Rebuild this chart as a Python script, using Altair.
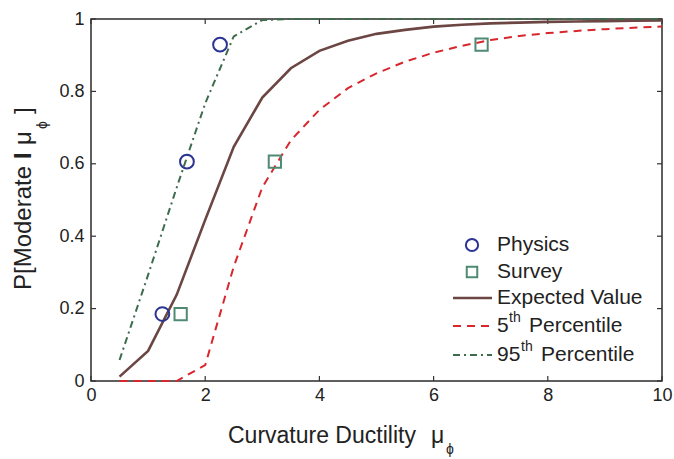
import altair as alt
import pandas as pd

# Fragility curves for the moderate damage state vs curvature ductility
mu = [0.5, 1.0, 1.5, 2.0, 2.5, 3.0, 3.5, 4.0, 4.5, 5.0,
      5.5, 6.0, 6.5, 7.0, 7.5, 8.0, 8.5, 9.0, 9.5, 10.0]
expected = [0.012, 0.083, 0.238, 0.445, 0.647, 0.783, 0.864, 0.912, 0.940, 0.959,
            0.970, 0.979, 0.984, 0.988, 0.990, 0.992, 0.993, 0.994, 0.995, 0.996]
pct05 = [0.0, 0.0, 0.0, 0.044, 0.316, 0.535, 0.665, 0.749, 0.809, 0.850,
         0.882, 0.907, 0.926, 0.942, 0.953, 0.961, 0.967, 0.972, 0.976, 0.979]
pct95 = [0.058, 0.293, 0.534, 0.767, 0.952, 0.997, 1.0, 1.0, 1.0, 1.0,
         1.0, 1.0, 1.0, 1.0, 1.0, 1.0, 1.0, 1.0, 1.0, 1.0]

# Observed fractions
physics_mu = [1.25, 1.68, 2.26]
physics_p = [0.185, 0.606, 0.929]
survey_mu = [1.57, 3.22, 6.84]
survey_p = [0.185, 0.606, 0.929]

x_ticks = [0, 2, 4, 6, 8, 10]
y_ticks = [0, 0.2, 0.4, 0.6, 0.8, 1.0]

C_PHYS = "#2b3492"
C_SURV = "#4f8a73"
C_EXP = "#6b4643"
C_P05 = "#d8262d"
C_P95 = "#3d6b4c"
C_TXT = "#222222"
FONT = "Liberation Sans"

W, H = 571, 362
OX, OY = 91, 19  # plot origin inside the page

curves = pd.DataFrame({"mu": mu, "expected": expected, "p05": pct05, "p95": pct95})
phys = pd.DataFrame({"mu": physics_mu, "p": physics_p})
surv = pd.DataFrame({"mu": survey_mu, "p": survey_p})
xt = pd.DataFrame({"t": x_ticks})
yt = pd.DataFrame({"t": y_ticks})
one = pd.DataFrame({"k": [0]})

xscale = alt.Scale(domain=[0, 10], nice=False, zero=False)
yscale = alt.Scale(domain=[0, 1], nice=False)

xaxis = alt.Axis(values=x_ticks, ticks=False, domain=False, grid=False,
                 labelFontSize=18, labelColor=C_TXT, labelFont=FONT,
                 labelPadding=5, labelFlush=False, title=None, format="~f")
yaxis = alt.Axis(values=y_ticks, ticks=False, domain=False, grid=False,
                 labelFontSize=18, labelColor=C_TXT, labelFont=FONT,
                 labelPadding=7, labelFlush=False, title=None, format="~f")


def X(field):
    return alt.X(field, scale=xscale, axis=xaxis)


def Y(field):
    return alt.Y(field, scale=yscale, axis=yaxis)


base = alt.Chart(curves)


def curve(field, color, width, dash=None):
    kw = dict(color=color, strokeWidth=width, clip=False, opacity=1)
    if dash:
        kw["strokeDash"] = dash
    return base.mark_line(**kw).encode(x=X("mu:Q"), y=Y(f"{field}:Q"))


exp_line = curve("expected", C_EXP, 2.6)
p05_line = curve("p05", C_P05, 2, dash=[8, 6])
p95_line = curve("p95", C_P95, 2, dash=[7, 4, 2, 4])

phys_pts = alt.Chart(phys).mark_point(shape="circle", size=190, filled=False,
                                      color=C_PHYS, strokeWidth=2, opacity=1).encode(
    x=X("mu:Q"), y=Y("p:Q"))
surv_pts = alt.Chart(surv).mark_point(shape="square", size=150, filled=False,
                                      color=C_SURV, strokeWidth=2, opacity=1).encode(
    x=X("mu:Q"), y=Y("p:Q"))

# inward ticks on all four sides of the frame
TL = 5
tick_style = dict(color="#333333", strokeWidth=1.2)
xt_bot = alt.Chart(xt).mark_rule(**tick_style).encode(
    x=X("t:Q"), y=alt.value(H - TL), y2=alt.value(H))
xt_top = alt.Chart(xt).mark_rule(**tick_style).encode(
    x=X("t:Q"), y=alt.value(0), y2=alt.value(TL))
yt_left = alt.Chart(yt).mark_rule(**tick_style).encode(
    y=Y("t:Q"), x=alt.value(0), x2=alt.value(TL))
yt_right = alt.Chart(yt).mark_rule(**tick_style).encode(
    y=Y("t:Q"), x=alt.value(W - TL), x2=alt.value(W))


def label(text, ax, ay, size, align="left", baseline="middle", angle=0,
          weight="normal"):
    kw = dict(text=text, fontSize=size, font=FONT, color=C_TXT, align=align,
              baseline=baseline, fontWeight=weight)
    if angle:
        kw["angle"] = angle
    return alt.Chart(one).mark_text(**kw).encode(
        x=alt.value(ax - OX), y=alt.value(ay - OY))


# axis titles with subscripts
titles = [
    label("Curvature Ductility", 228, 443, 23, baseline="alphabetic"),
    label("\u03bc", 431, 443, 23, baseline="alphabetic"),
    label("\u03d5", 446, 454, 14, baseline="alphabetic"),
    label("P[Moderate ", 31, 290, 24, baseline="alphabetic", angle=270),
    label("I", 31, 159, 24, baseline="alphabetic", angle=270, weight="bold"),
    label("\u03bc", 31, 145, 24, baseline="alphabetic", angle=270),
    label("\u03d5", 47, 129, 14, baseline="alphabetic", angle=270),
    label("]", 31, 114, 24, baseline="alphabetic", angle=270),
]

# legend
LX = 472
rows = [245, 272, 298, 326, 355]
TX = 497
FS = 21
legend = [
    alt.Chart(one).mark_point(shape="circle", size=150, filled=False, opacity=1,
                              color=C_PHYS, strokeWidth=2).encode(
        x=alt.value(LX - OX), y=alt.value(rows[0] - OY)),
    alt.Chart(one).mark_point(shape="square", size=110, filled=False, opacity=1,
                              color=C_SURV, strokeWidth=2).encode(
        x=alt.value(LX - OX), y=alt.value(rows[1] - OY)),
    alt.Chart(one).mark_rule(color=C_EXP, strokeWidth=2.6).encode(
        x=alt.value(453 - OX), x2=alt.value(492 - OX), y=alt.value(rows[2] - OY)),
    alt.Chart(one).mark_rule(color=C_P05, strokeWidth=2, strokeDash=[8, 6]).encode(
        x=alt.value(453 - OX), x2=alt.value(492 - OX), y=alt.value(rows[3] - OY)),
    alt.Chart(one).mark_rule(color=C_P95, strokeWidth=2, strokeDash=[7, 4, 2, 4]).encode(
        x=alt.value(453 - OX), x2=alt.value(492 - OX), y=alt.value(rows[4] - OY)),
    label("Physics", TX, rows[0], FS),
    label("Survey", TX, rows[1], FS),
    label("Expected Value", TX, rows[2], FS),
    label("5", TX, rows[3], FS),
    label("th", TX + 12, rows[3] - 8, 14),
    label("Percentile", TX + 32, rows[3], FS),
    label("95", TX, rows[4], FS),
    label("th", TX + 24, rows[4] - 8, 14),
    label("Percentile", TX + 44, rows[4], FS),
]

chart = alt.layer(
    xt_bot, xt_top, yt_left, yt_right,
    exp_line, p05_line, p95_line, phys_pts, surv_pts,
    *titles, *legend,
).properties(
    width=W, height=H,
    padding={"left": OX, "top": OY, "right": 674 - OX - W, "bottom": 459 - OY - H},
    autosize=alt.AutoSizeParams(type="none"),
    background="white",
).configure_view(
    stroke="#2b2b2b", strokeWidth=1.5
)

chart.save("out.html", embed_options={"renderer": "svg", "actions": False})
